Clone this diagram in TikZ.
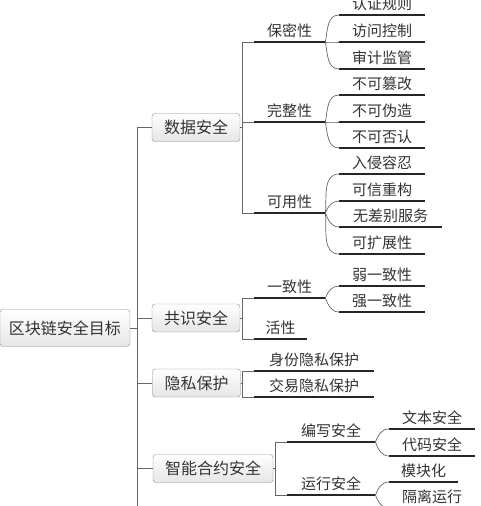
\documentclass[tikz,border=0pt]{standalone}
\usepackage{fontspec}
\setmainfont{Noto Sans CJK SC}
\usetikzlibrary{positioning}
\colorlet{boxgray}{black!45}
\colorlet{linegray}{black!60}
\colorlet{textgray}{black!80}
\tikzset{
  goalbox/.style={draw=boxgray, rounded corners=3pt, top color=white, bottom color=black!10,
    text=textgray, inner sep=0pt, minimum width=#1, minimum height=28pt,
    font=\fontsize{16pt}{18pt}\selectfont},
  topic/.style={anchor=south west, inner sep=0pt, text height=11pt, text depth=5pt,
    minimum width=#1, text=textgray, font=\fontsize{15pt}{18pt}\selectfont},
  topic/.default=86,
  uline/.style={line width=2pt, black!85},
  conn/.style={linegray, line width=0.7pt},
}

\begin{document}
\begin{tikzpicture}[x=1pt,y=1pt]

      \useasboundingbox (0,0) rectangle (480,-506);
      \clip (0,0) rectangle (480,-506);

      % root and first level
      \node[goalbox=130, minimum height=37pt] (goal) at (65,-328) {区块链安全目标};
      \node[goalbox=88] (data) at (196,-127.5) {数据安全};
      \node[goalbox=88] (cons) at (196,-318) {共识安全};
      \node[goalbox=88] (priv) at (196.5,-383) {隐私保护};
      \node[goalbox=120] (smart) at (213,-468.5) {智能合约安全};
      \coordinate (trunkend) at (137,-506);

      % second level
      \node[topic=71] (conf) at (254,-42) {保密性};
      \node[topic=71] (integ) at (254,-122) {完整性};
      \node[topic=71] (avail) at (254,-213) {可用性};
      \node[topic=71] (agree) at (254,-298) {一致性};
      \node[topic=53] (live) at (254,-339) {活性};
      \node[topic=120] (idpriv) at (254,-371) {身份隐私保护};
      \node[topic=120] (txpriv) at (254,-397) {交易隐私保护};
      \node[topic=88] (write) at (287,-442) {编写安全};
      \node[topic=88] (run) at (287,-495) {运行安全};

      % third level
      \node[topic] (auth) at (339,-15) {认证规则};
      \node[topic] (access) at (339,-42) {访问控制};
      \node[topic] (audit) at (339,-69) {审计监管};
      \node[topic] (notamper) at (339,-95) {不可篡改};
      \node[topic] (noforge) at (339,-122) {不可伪造};
      \node[topic] (nodeny) at (339,-148) {不可否认};
      \node[topic] (tolerate) at (339,-174) {入侵容忍};
      \node[topic] (rebuild) at (339,-201) {可信重构};
      \node[topic=103] (fair) at (339,-227) {无差别服务};
      \node[topic] (scale) at (339,-254) {可扩展性};
      \node[topic] (weak) at (339,-286) {弱一致性};
      \node[topic] (strong) at (339,-312) {强一致性};
      \node[topic] (textsafe) at (389,-429) {文本安全};
      \node[topic] (codesafe) at (389,-456) {代码安全};
      \node[topic=69] (module) at (389,-482) {模块化};
      \node[topic] (isolate) at (389,-508) {隔离运行};

      % trunk
      \draw[conn] (goal.east) -- (goal.east -| trunkend);
      \draw[conn] (data.west) -| (trunkend);
      \foreach \n in {cons,priv,smart}
        \draw[conn] (\n.west) -- (\n.west -| trunkend);

      % elbows to second level
      \foreach \p/\c in {data/conf,data/integ,data/avail,cons/agree,cons/live,
                         priv/idpriv,priv/txpriv,smart/write,smart/run}
        \draw[conn] (\p.east) -- ++(2,0) |- (\c.south west);

      % curves to third level
      \foreach \p/\c/\a in {conf/auth/80,conf/access/0,conf/audit/-80,
                            integ/notamper/80,integ/noforge/0,integ/nodeny/-80,
                            avail/tolerate/85,avail/rebuild/70,avail/fair/-70,avail/scale/-85,
                            agree/weak/70,agree/strong/-70,
                            write/textsafe/70,write/codesafe/-70,
                            run/module/70,run/isolate/-70}
        \draw[conn] (\p.south east) to[out=\a,in=180] (\c.south west);

      % underlines
      \foreach \n in {conf,integ,avail,agree,live,idpriv,txpriv,write,run,
                      auth,access,audit,notamper,noforge,nodeny,tolerate,rebuild,fair,scale,
                      weak,strong,textsafe,codesafe,module,isolate}
        \draw[uline] (\n.south west) -- (\n.south east);

    \end{tikzpicture}
\end{document}
